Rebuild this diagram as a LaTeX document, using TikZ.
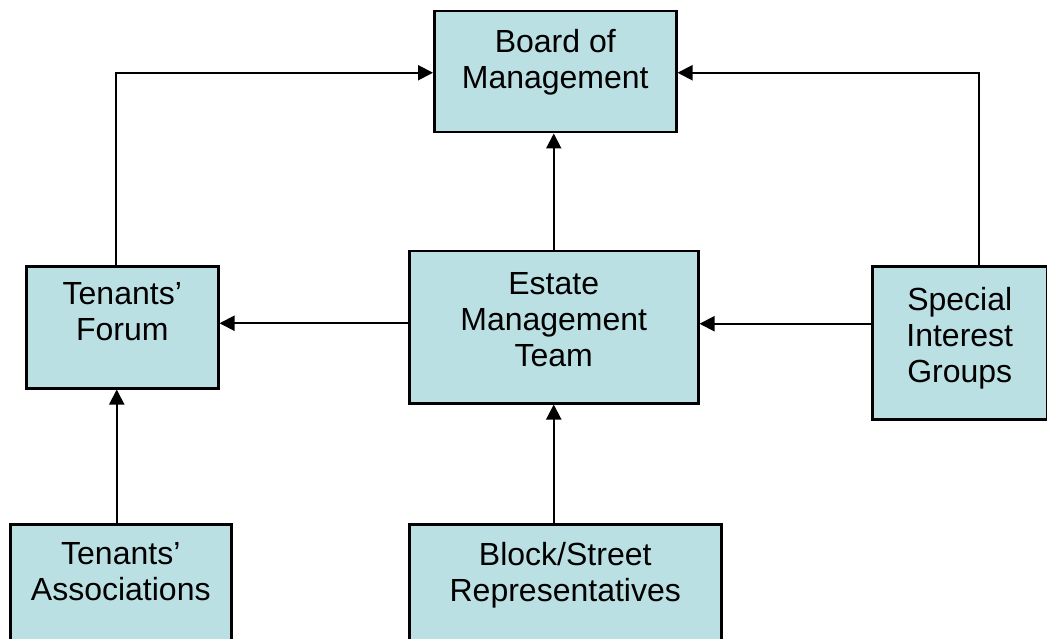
\documentclass[tikz,border=0pt]{standalone}
\usepackage{fontspec}
\setmainfont{Liberation Sans}
\usepackage{xcolor}
\usetikzlibrary{arrows.meta}
\definecolor{boxfill}{HTML}{BBE0E3}

\begin{document}
\begin{tikzpicture}[
    x=1pt, y=-1pt,
    >={Triangle[length=15pt, width=15pt]},
    box/.style={draw, fill=boxfill, line width=2.5pt, anchor=north west, inner sep=0pt},
    txt/.style={anchor=north, align=center, yshift=-19pt, inner sep=0pt,
                font=\fontsize{32}{36}\selectfont},
    link/.style={->, line width=2pt}
]
\clip (0,0) rectangle (1047,639);

% Nodes :
\node[box, minimum width=242pt, minimum height=121pt,
      label={[txt]north:Board of\\Management}] (board) at (433,10) {};
\node[box, minimum width=192pt, minimum height=122pt,
      label={[txt, yshift=2pt]north:Tenants'\\Forum}] (forum) at (25,265) {};
\node[box, minimum width=289pt, minimum height=152pt,
      label={[txt, yshift=-3pt]north:Estate\\Management\\Team}] (estate) at (408,250) {};
\node[box, minimum width=175pt, minimum height=153pt,
      label={[txt, yshift=-3pt]north:Special\\Interest\\Groups}] (special) at (871,265) {};
\node[box, minimum width=221pt, minimum height=140pt,
      label={[txt]north:Tenants'\\Associations}] (assoc) at (9,523) {};
\node[box, minimum width=312pt, minimum height=140pt,
      label={[txt]north:Block/Street\\Representatives}] (block) at (408,523) {};

% Edges :
\draw[link] ([xshift=-6pt]forum.north) |- ([yshift=-1pt]board.west);
\draw[link] ([xshift=19pt]special.north) |- ([yshift=-1pt]board.east);
\draw[link] (estate.north) -- (estate.north |- board.south);
\draw[link] ([yshift=4pt]estate.west) -- ([yshift=4pt]estate.west -| forum.east);
\draw[link] ([yshift=19pt]special.west) -- ([yshift=19pt]special.west -| estate.east);
\draw[link] ([xshift=-4pt]assoc.north) -- ([xshift=-4pt]assoc.north |- forum.south);
\draw[link] (estate.south |- block.north) -- (estate.south);

\end{tikzpicture}
\end{document}
